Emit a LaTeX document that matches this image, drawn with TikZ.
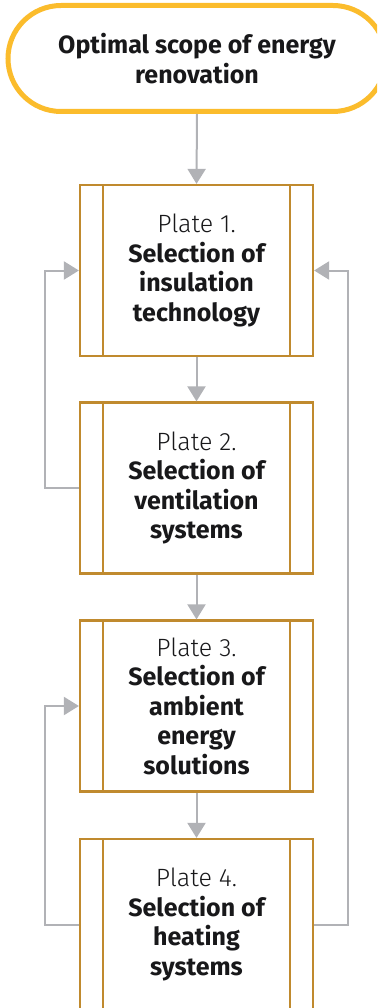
\documentclass[tikz,border=0pt]{standalone}
\usepackage{fontspec}
\setmainfont{Fira Sans}
\newfontfamily\lightfont{Fira Sans Light}
\usetikzlibrary{arrows.meta,shapes.misc}

\definecolor{pillcol}{HTML}{FBBC2C}
\definecolor{boxcol}{HTML}{C08A2E}
\definecolor{arrcol}{HTML}{B1B2B6}
\definecolor{txtcol}{HTML}{18181A}

\tikzset{
  terminal/.style={rounded rectangle, draw=pillcol, line width=5pt, fill=white,
    minimum width=378pt, minimum height=106pt, inner sep=0pt,
    align=center, text=txtcol, font=\fontsize{25}{29.5}\selectfont\bfseries},
  platebox/.style={rectangle, draw=boxcol, line width=2.2pt, fill=white,
    minimum width=233pt, minimum height=171pt, inner sep=0pt,
    align=center, text=txtcol, font=\fontsize{25}{29.5}\selectfont,
    path picture={
      \draw[boxcol, line width=2.2pt]
        ([xshift=23pt]path picture bounding box.north west) --
        ([xshift=23pt]path picture bounding box.south west)
        ([xshift=-23pt]path picture bounding box.north east) --
        ([xshift=-23pt]path picture bounding box.south east);
    }},
  link/.style={draw=arrcol, line width=2pt,
    -{Triangle[width=18pt,length=15pt]}}
}

\begin{document}
\begin{tikzpicture}[x=1pt, y=-1pt]
  \useasboundingbox (0,0) rectangle (377,1008);
  \clip (0,0) rectangle (377,1008);

  \node[terminal] (start) at (197,58.5) {Optimal scope of energy\\renovation};

  \node[platebox] (p1) at (196.5,270.5) {{\lightfont Plate 1.}\\\bfseries Selection of\\\bfseries insulation\\\bfseries technology};
  \node[platebox] (p2) at (196.5,488) {{\lightfont Plate 2.}\\\bfseries Selection of\\\bfseries ventilation\\\bfseries systems};
  \node[platebox] (p3) at (196.5,706) {{\lightfont Plate 3.}\\\bfseries Selection of\\\bfseries ambient\\\bfseries energy\\\bfseries solutions};
  \node[platebox] (p4) at (196.5,924.5) {{\lightfont Plate 4.}\\\bfseries Selection of\\\bfseries heating\\\bfseries systems};

  % main sequence
  \draw[link] (start.south) -- (p1.north);
  \draw[link] (p1.south) -- (p2.north);
  \draw[link] (p2.south) -- (p3.north);
  \draw[link] (p3.south) -- (p4.north);

  % feedback loops
  \draw[link] (p2.west) -- ++(-34,0) |- (p1.west);
  \draw[link] (p4.west) -- ++(-34,0) |- (p3.west);
  \draw[link] (p4.east) -- ++(34,0) |- (p1.east);
\end{tikzpicture}
\end{document}
